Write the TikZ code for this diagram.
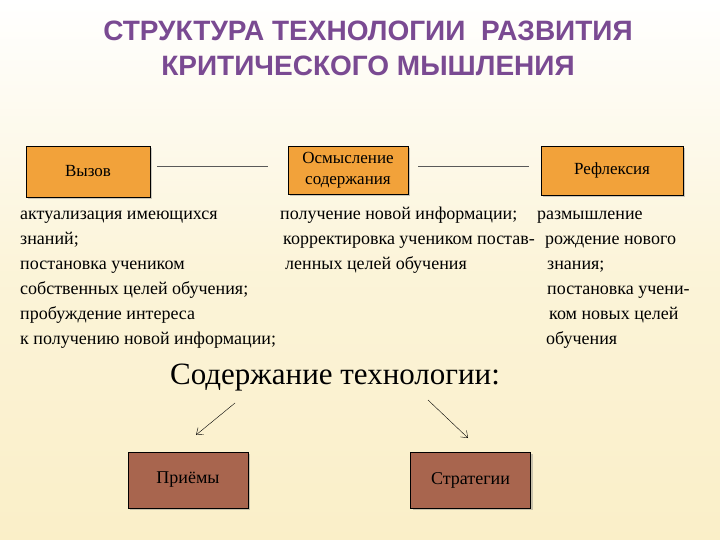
\documentclass[tikz,border=0pt]{standalone}
\usepackage{fontspec}
\setmainfont{Liberation Serif}
\newfontfamily\titlefont{Liberation Sans}
\usetikzlibrary{shadows,arrows.meta}
\definecolor{titlepurple}{HTML}{7A4A92}
\definecolor{boxorange}{HTML}{F2A23A}
\definecolor{boxbrown}{HTML}{A8654E}
\definecolor{bgcream}{HTML}{FAEFC8}
\begin{document}
\begin{tikzpicture}[x=1pt,y=-1pt,
    stagebox/.style={rectangle, draw=black, thick, fill=boxorange, align=center, font=\fontsize{17}{21}\selectfont, drop shadow={opacity=0.4}},
    toolbox/.style={rectangle, draw=black, thick, fill=boxbrown, align=center, font=\fontsize{18}{21}\selectfont, minimum width=120pt, minimum height=56pt, drop shadow={opacity=0.4}},
    desc/.style={anchor=base west, inner sep=0pt, font=\fontsize{18}{21}\selectfont},
]
\useasboundingbox (0,0) rectangle (720,540);
\shade[top color=white, bottom color=bgcream, middle color=bgcream!70] (0,0) rectangle (720,540);

% Title
\node[text=titlepurple, font=\titlefont\bfseries\fontsize{28}{35}\selectfont, align=center] (title) at (368,48) {СТРУКТУРА ТЕХНОЛОГИИ \ РАЗВИТИЯ\\КРИТИЧЕСКОГО МЫШЛЕНИЯ};

% Stages
\node[stagebox, minimum width=124pt, minimum height=51pt] (vyzov) at (88,171.5) {Вызов};
\node[stagebox, minimum width=120pt, minimum height=48pt, inner sep=1pt] (osm) at (348,170) {Осмысление\\содержания};
\node[stagebox, minimum width=142pt, minimum height=49pt] (refl) at (612,170.5) {Рефлексия};
\draw[gray!70!black] (157,166) -- (268,166);
\draw[gray!70!black] (418,166) -- (529,166);

% Descriptions
\node[desc] (v1) at (20,219) {актуализация имеющихся};
\node[desc] (v2) at (20,244) {знаний;};
\node[desc] (v3) at (20,269) {постановка учеником};
\node[desc] (v4) at (20,294) {собственных целей обучения;};
\node[desc] (v5) at (20,319) {пробуждение интереса};
\node[desc] (v6) at (20,344) {к получению новой информации;};
\node[desc] (o1) at (280,219) {получение новой информации;};
\node[desc] (o2) at (283,244) {корректировка учеником постав-};
\node[desc] (o3) at (285,269) {ленных целей обучения};
\node[desc] (r1) at (537,219) {размышление};
\node[desc] (r2) at (545,244) {рождение нового};
\node[desc] (r3) at (547,269) {знания;};
\node[desc] (r4) at (547,294) {постановка учени-};
\node[desc] (r5) at (549,319) {ком новых целей};
\node[desc] (r6) at (546,344) {обучения};

% Content
\node[font=\fontsize{31}{36}\selectfont] (content) at (335,378) {Содержание технологии:};
\node[toolbox] (priemy) at (188,480) {Приёмы};
\node[toolbox] (strat) at (470.5,480) {Стратегии};
\coordinate (a1) at (235,403);
\coordinate (a2) at (428,400);
\draw[-{Straight Barb[length=6pt,width=9pt]}] (a1) -- (196,435);
\draw[-{Straight Barb[length=6pt,width=9pt]}] (a2) -- (468,438);
\end{tikzpicture}
\end{document}
